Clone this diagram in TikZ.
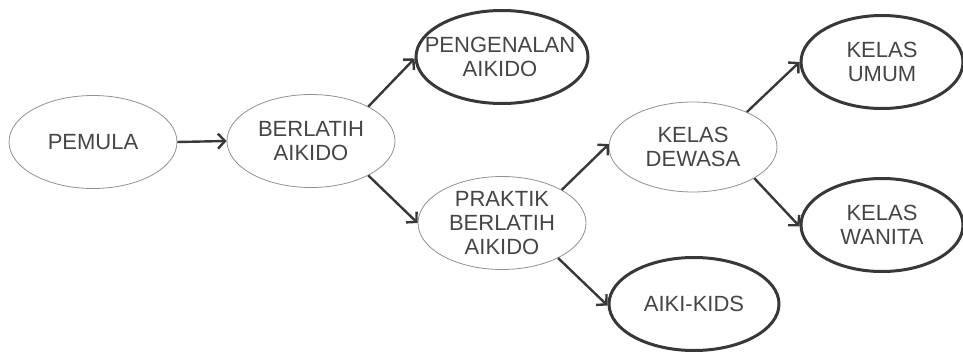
\documentclass[tikz,border=0pt]{standalone}
\usepackage{fontspec}
\setmainfont{Liberation Sans}
\usetikzlibrary{shapes.geometric,arrows.meta}
\definecolor{txt}{HTML}{454545}
\definecolor{ink}{HTML}{383838}
\definecolor{thin}{HTML}{909090}
\tikzset{
  base/.style={ellipse, inner sep=0pt, minimum width=168pt, minimum height=93pt},
  lightbox/.style={base, draw=thin, line width=0.8pt},
  heavybox/.style={base, draw=ink, line width=3pt},
  label/.style={inner sep=0pt, align=center, text=txt, font=\fontsize{22pt}{24pt}\selectfont},
  conn/.style={draw=ink, line width=2.4pt, -{Straight Barb[length=7pt,width=15pt]}}
}
\begin{document}
\begin{tikzpicture}[x=1pt,y=-1pt]
\useasboundingbox (0,0) rectangle (963,351);
\node[lightbox] (pem) at (93,142) {};
\node[lightbox] (berl) at (311,141) {};
\node[heavybox, minimum width=172pt] (peng) at (502,57) {};
\node[lightbox] (prak) at (502,223) {};
\node[lightbox, minimum height=90pt] (dew) at (693,147) {};
\node[heavybox, minimum width=162pt] (umum) at (882,62) {};
\node[heavybox, minimum width=162pt] (wan) at (882,225) {};
\node[heavybox, minimum width=170pt] (aiki) at (694,304) {};
\node[label] (pemt) at (pem) {PEMULA};
\node[label] (berlt) at (berl) {BERLATIH\\AIKIDO};
\node[label] (pengt) at ([xshift=-2pt]peng) {PENGENALAN\\AIKIDO};
\node[label] (prakt) at (prak) {PRAKTIK\\BERLATIH\\AIKIDO};
\node[label] (dewt) at (dew) {KELAS\\DEWASA};
\node[label] (umumt) at (umum) {KELAS\\UMUM};
\node[label] (want) at (wan) {KELAS\\WANITA};
\node[label] (aikit) at (aiki) {AIKI-KIDS};
\draw[conn] (pem.east) -- (berl.west);
\draw[conn] (berl.31) -- (peng.181);
\draw[conn] (berl.-31) -- (prak.180);
\draw[conn] (prak.29) -- (dew.178);
\draw[conn] (prak.-32) -- (aiki.181);
\draw[conn] (dew.33) -- (umum.180);
\draw[conn] (dew.-27) -- (wan.181);
\end{tikzpicture}
\end{document}
